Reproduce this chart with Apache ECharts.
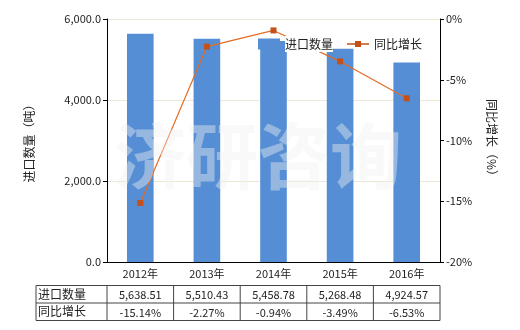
<!DOCTYPE html>
<html>
<head>
<meta charset="utf-8">
<script src="https://cdn.jsdelivr.net/npm/echarts@6/dist/echarts.min.js"></script>
<style>
  html, body { margin: 0; padding: 0; background: #fff; }
  #chart { width: 520px; height: 330px; }
</style>
</head>
<body>
<div id="chart"></div>
<script>
const years = ['2012年', '2013年', '2014年', '2015年', '2016年']
const importQty = [5638.51, 5510.43, 5458.78, 5268.48, 4924.57]
const yoyGrowth = [-15.14, -2.27, -0.94, -3.49, -6.53]
const qtyLabels = ['5,638.51', '5,510.43', '5,458.78', '5,268.48', '4,924.57']
const yoyLabels = ['-15.14%', '-2.27%', '-0.94%', '-3.49%', '-6.53%']

const font = '"Noto Sans CJK SC", "Liberation Sans", sans-serif'
const chart = echarts.init(document.getElementById('chart'))

function fmtQty(v) {
    return v.toLocaleString('en-US', { minimumFractionDigits: 1, maximumFractionDigits: 1 })
}

const option = {
    animation: false,
    textStyle: { fontFamily: font },
    grid: { left: 107, right: 80, top: 19, bottom: 68 },
    legend: {
        left: 253, top: 31,
        itemWidth: 22, itemHeight: 11, itemGap: 14,
        textStyle: { fontSize: 12, color: '#222', backgroundColor: '#fff', padding: [2, 0, 2, 0] },
        data: [
            { name: '进口数量', icon: 'rect' },
            { name: '同比增长', icon: 'path://M0,4.8L22,4.8L22,6.2L0,6.2Z M8,2.5L14,2.5L14,8.5L8,8.5Z' }
        ]
    },
    xAxis: {
        type: 'category',
        data: years,
        axisLine: { lineStyle: { color: '#000' } },
        axisTick: { show: false },
        axisLabel: { color: '#222', fontSize: 11, margin: 6 }
    },
    yAxis: [
        {
            type: 'value', min: 0, max: 6000, interval: 2000,
            name: '进口数量（吨）', nameLocation: 'middle', nameGap: 72,
            nameTextStyle: { fontSize: 12, color: '#222' },
            axisLine: { show: true, lineStyle: { color: '#000' } },
            axisTick: { show: true, length: 4, lineStyle: { color: '#000' } },
            axisLabel: { color: '#222', fontSize: 11, margin: 6, formatter: fmtQty },
            splitLine: { lineStyle: { color: '#ebe9d3' } }
        },
        {
            type: 'value', min: -20, max: 0, interval: 5,
            name: '同比增长（%）', nameLocation: 'middle', nameGap: 46, nameRotate: -90,
            nameTextStyle: { fontSize: 12, color: '#222' },
            axisLine: { show: true, lineStyle: { color: '#000' } },
            axisTick: { show: true, length: 4, lineStyle: { color: '#000' } },
            axisLabel: { color: '#222', fontSize: 11, margin: 6, formatter: '{value}%' },
            splitLine: { show: false }
        }
    ],
    series: [
        {
            name: '进口数量',
            type: 'bar',
            barWidth: '40%',
            itemStyle: { color: '#558ed5' },
            data: importQty
        },
        {
            name: '同比增长',
            type: 'line',
            yAxisIndex: 1,
            symbol: 'rect',
            symbolSize: 6,
            lineStyle: { color: '#e46c24', width: 1.2 },
            itemStyle: { color: '#c4501a' },
            data: yoyGrowth
        }
    ]
}
chart.setOption(option)

// 表格 + 水印
function buildTable() {
    const x0 = 36
    const x1 = chart.convertToPixel({ xAxisIndex: 0 }, years[0])
    const x2 = chart.convertToPixel({ xAxisIndex: 0 }, years[1])
    const colW = x2 - x1
    const left = x1 - colW / 2
    const right = left + colW * years.length
    const rows = [285.5, 303, 320.5]
    const lineStyle = { stroke: '#444', lineWidth: 1 }
    const els = []

    // 水印
    els.push({
        type: 'text', left: 114, top: 120, silent: true, z: 100,
        style: {
            text: '济研咨询', fontSize: 72, fontWeight: 'bold', fontFamily: font,
            fill: 'rgba(240,240,240,0.42)', letterSpacing: 5
        }
    })

    rows.forEach(y => {
        els.push({ type: 'line', shape: { x1: x0, y1: y, x2: right, y2: y }, style: lineStyle })
    })
    els.push({ type: 'line', shape: { x1: x0, y1: rows[0], x2: x0, y2: rows[2] }, style: lineStyle })
    for (let i = 0; i <= years.length; i++) {
        const x = left + colW * i
        els.push({ type: 'line', shape: { x1: x, y1: rows[0], x2: x, y2: rows[2] }, style: lineStyle })
    }
    const rowNames = ['进口数量', '同比增长']
    const rowVals = [qtyLabels, yoyLabels]
    rowNames.forEach((n, r) => {
        const cy = (rows[r] + rows[r + 1]) / 2
        els.push({
            type: 'text', x: x0 + 2, y: cy,
            style: { text: n, fontSize: 12, fontFamily: font, fill: '#222', verticalAlign: 'middle' }
        })
        rowVals[r].forEach((v, i) => {
            els.push({
                type: 'text', x: left + colW * (i + 0.5), y: cy + 1,
                style: { text: v, fontSize: 11, fontFamily: font, fill: '#222', align: 'center', verticalAlign: 'middle' }
            })
        })
    })
    chart.setOption({ graphic: els })
}
buildTable()
</script>
</body>
</html>
